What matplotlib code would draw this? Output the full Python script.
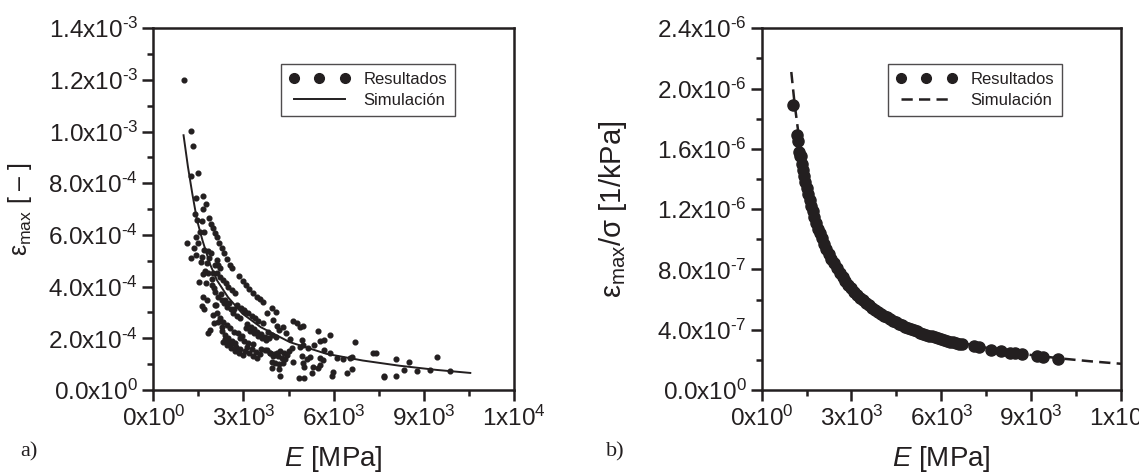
import matplotlib
matplotlib.use("Agg")
from matplotlib import pyplot as plt
from matplotlib.ticker import FixedLocator, MultipleLocator
from matplotlib.lines import Line2D

# ---- data ----
# a) measured strain vs modulus
res_E = [1006, 1242, 1331, 1497, 1253, 1420, 1664, 1741, 1641, 1386, 1464, 1608, 1863,
         1908, 1974, 2052, 2107, 1109, 1420, 1553, 1686, 1497, 1353, 1242, 1420, 1608,
         1686, 1830, 1908, 1863, 2196, 2274, 2352, 2440, 2551, 2607, 2107, 2163, 2218,
         2052, 1641, 1830, 1974, 2107, 2218, 2329, 2418, 2496, 2607, 2717, 2861, 2972,
         3083, 3194, 3305, 3438, 3549, 3638, 1530, 1752, 1641, 1797, 1608, 1686, 1941,
         2052, 2163, 2274, 2352, 2462, 2573, 2662, 2772, 2883, 3016, 3161, 3272, 3382,
         3493, 3660, 3793, 3937, 4081, 3970, 4103, 2052, 2130, 2218, 2329, 2440, 2551,
         2684, 2828, 2939, 3083, 3216, 3349, 3482, 3604, 3749, 2019, 1886, 1830, 2274,
         2385, 2496, 2607, 2717, 2329, 2440, 2573, 2717, 2861, 2994, 3127, 3272, 3416,
         3549, 2883, 3016, 3161, 3305, 3826, 3937, 4081, 4192, 4303, 4414, 4547, 4658,
         4769, 4880, 4990, 4935, 4968, 3771, 3882, 3993, 4103, 4214, 4347, 4436, 3937,
         4048, 4192, 4325, 3937, 4214, 4525, 4602, 4880, 4935, 4968, 5012, 4858, 5012,
         5157, 5212, 5301, 5268, 5357, 5468, 5534, 5545, 5534, 5468, 5645, 5690, 5667,
         5878, 5878, 5967, 5944, 6100, 6300, 6432, 6543, 6599, 6710, 6599, 7320, 7408,
         7674, 8074, 8074, 8340, 8517, 8761, 9211, 9454, 9878, 7660, 4180, 4650, 5100,
         # second rows inside the bands
         1580, 1720, 1800, 1950, 2010, 2090, 2250, 2390, 2520, 2690, 2800, 2930, 3050,
         3120, 3240, 3350, 3460, 3590, 3700, 3850, 2000, 2150, 2290, 2380, 2470, 2600,
         2750, 2900, 3040, 3190, 3330, 3450, 3580, 3700, 3880, 4000, 4150, 4270, 4380]
res_eps = [1.200e-3, 1.004e-3, 9.46e-4, 8.39e-4, 8.28e-4, 7.42e-4, 7.52e-4, 7.20e-4,
           7.00e-4, 6.81e-4, 6.58e-4, 6.55e-4, 6.64e-4, 6.42e-4, 6.26e-4, 6.06e-4,
           5.93e-4, 5.70e-4, 5.93e-4, 6.13e-4, 6.13e-4, 5.70e-4, 5.48e-4, 5.10e-4,
           5.22e-4, 5.16e-4, 5.42e-4, 5.39e-4, 5.29e-4, 5.10e-4, 5.70e-4, 5.48e-4,
           5.29e-4, 5.06e-4, 4.84e-4, 4.71e-4, 5.03e-4, 4.84e-4, 4.71e-4, 4.84e-4,
           4.49e-4, 4.52e-4, 4.54e-4, 4.52e-4, 4.39e-4, 4.26e-4, 4.13e-4, 4.00e-4,
           3.87e-4, 3.74e-4, 4.41e-4, 4.22e-4, 4.06e-4, 3.91e-4, 3.77e-4, 3.61e-4,
           3.51e-4, 3.42e-4, 4.17e-4, 4.13e-4, 3.61e-4, 3.48e-4, 3.25e-4, 3.12e-4,
           4.06e-4, 3.81e-4, 3.61e-4, 3.48e-4, 3.35e-4, 3.23e-4, 3.12e-4, 2.97e-4,
           2.86e-4, 2.77e-4, 3.10e-4, 2.97e-4, 2.86e-4, 2.77e-4, 2.68e-4, 2.61e-4,
           2.97e-4, 3.16e-4, 3.03e-4, 2.71e-4, 2.48e-4, 3.29e-4, 2.97e-4, 2.77e-4,
           2.64e-4, 2.52e-4, 2.39e-4, 2.26e-4, 2.19e-4, 2.09e-4, 2.39e-4, 2.30e-4,
           2.19e-4, 2.09e-4, 2.00e-4, 1.94e-4, 2.61e-4, 2.32e-4, 2.22e-4, 2.30e-4,
           2.13e-4, 2.00e-4, 1.91e-4, 1.81e-4, 1.87e-4, 1.74e-4, 1.61e-4, 1.52e-4,
           1.44e-4, 1.35e-4, 1.68e-4, 1.57e-4, 1.48e-4, 1.39e-4, 2.00e-4, 1.91e-4,
           1.83e-4, 1.78e-4, 2.26e-4, 2.13e-4, 2.04e-4, 2.32e-4, 2.43e-4, 2.19e-4,
           1.96e-4, 2.68e-4, 2.61e-4, 2.45e-4, 2.48e-4, 1.94e-4, 1.74e-4, 1.55e-4,
           1.42e-4, 1.32e-4, 1.42e-4, 1.52e-4, 1.44e-4, 1.35e-4, 1.10e-4, 1.03e-4,
           1.01e-4, 1.06e-4, 8.4e-5, 5.4e-5, 1.52e-4, 1.61e-4, 1.65e-4, 1.32e-4,
           1.03e-4, 9.0e-5, 4.5e-5, 4.5e-5, 1.61e-4, 1.29e-4, 9.0e-5, 6.5e-5,
           1.74e-4, 2.30e-4, 1.91e-4, 1.23e-4, 9.7e-5, 8.4e-5, 1.16e-4, 1.55e-4,
           1.94e-4, 2.13e-4, 1.42e-4, 7.1e-5, 5.4e-5, 1.23e-4, 1.19e-4, 6.5e-5,
           1.23e-4, 8.0e-5, 1.87e-4, 1.29e-4, 1.44e-4, 1.42e-4, 5.4e-5, 1.19e-4,
           5.4e-5, 7.7e-5, 1.10e-4, 7.5e-5, 7.8e-5, 1.29e-4, 7.2e-5, 5.2e-5,
           8.1e-5, 1.10e-4, 1.20e-4,
           4.95e-4, 4.60e-4, 4.90e-4, 4.30e-4, 3.95e-4, 3.30e-4, 3.70e-4, 3.50e-4,
           3.35e-4, 3.15e-4, 3.30e-4, 3.18e-4, 3.02e-4, 2.55e-4, 2.45e-4, 2.35e-4,
           2.25e-4, 2.15e-4, 2.05e-4, 2.00e-4, 2.90e-4, 2.65e-4, 2.45e-4, 1.98e-4,
           1.88e-4, 1.78e-4, 1.68e-4, 1.58e-4, 1.50e-4, 1.42e-4, 1.33e-4, 1.25e-4,
           1.60e-4, 1.53e-4, 1.45e-4, 1.38e-4, 1.30e-4, 1.23e-4, 1.18e-4]

# a) simulated curve
sim_E = [1006, 1152, 1297, 1455, 1636, 1879, 2121, 2485, 2970, 3576, 4545, 5758,
         6970, 8182, 9394, 10545]
sim_eps = [9.86e-4, 8.64e-4, 7.60e-4, 6.57e-4, 5.79e-4, 4.89e-4, 4.24e-4, 3.59e-4,
           2.95e-4, 2.43e-4, 1.85e-4, 1.40e-4, 1.14e-4, 9.4e-5, 7.8e-5, 6.6e-5]

# b) measured eps/sigma vs modulus (units of 1e-6 1/kPa)
res2_E = [1050, 1180, 1200, 1250, 1270,
          1300, 1340, 1380, 1420, 1460, 1500, 1550, 1600, 1650, 1700, 1760, 1820, 1880,
          1940, 2000, 2080, 2160, 2240, 2320, 2400, 2500, 2600, 2700, 2800, 2900, 3000,
          3100, 3200, 3300, 3400, 3500, 3600, 3700, 3800, 3900, 4000, 4100, 4200, 4300,
          4400, 4500, 4600, 4700, 4800, 4900, 5000, 5100, 5200, 5300, 5400, 5500, 5600,
          5700, 5800, 5900, 6000, 6100, 6200, 6300, 6400, 6500, 6600, 6700,
          7100, 7250, 7650, 8000, 8300, 8450, 8700, 9200, 9400, 9900]
res2_y = [1.89, 1.69, 1.65, 1.58, 1.55,
          1.55, 1.50, 1.46, 1.42, 1.38, 1.34, 1.30, 1.26, 1.22, 1.19, 1.15, 1.11, 1.07,
          1.04, 1.01, 0.971, 0.935, 0.901, 0.870, 0.841, 0.808, 0.777, 0.748, 0.721,
          0.697, 0.674, 0.652, 0.632, 0.612, 0.594, 0.577, 0.561, 0.546, 0.531, 0.518,
          0.505, 0.493, 0.481, 0.470, 0.460, 0.449, 0.439, 0.430, 0.421, 0.412, 0.404,
          0.396, 0.389, 0.381, 0.374, 0.368, 0.361, 0.355, 0.349, 0.343, 0.337, 0.332,
          0.326, 0.321, 0.316, 0.311, 0.306, 0.302,
          0.289, 0.283, 0.268, 0.256, 0.247, 0.243, 0.236, 0.223, 0.218, 0.207]

# b) simulated curve
sim2_E = [990, 1100, 1250, 1400, 1600, 1800, 2000, 2300, 2600, 3000, 3500, 4000, 4500,
          5000, 6000, 7000, 8000, 9000, 10000, 11000, 12000]
sim2_y = [2.11, 1.90, 1.67, 1.49, 1.31, 1.16, 1.045, 0.909, 0.804, 0.697, 0.597, 0.523,
          0.464, 0.418, 0.348, 0.299, 0.261, 0.232, 0.209, 0.190, 0.174]

x_ticks = [0, 3000, 6000, 9000, 12000]
x_labels = ["0x10$^{0}$", "3x10$^{3}$", "6x10$^{3}$", "9x10$^{3}$", "1x10$^{4}$"]
y1_ticks = [0, 2e-4, 4e-4, 6e-4, 8e-4, 1e-3, 1.2e-3, 1.4e-3]
y1_labels = ["0.0x10$^{0}$", "2.0x10$^{\\text{-}4}$", "4.0x10$^{\\text{-}4}$",
             "6.0x10$^{\\text{-}4}$", "8.0x10$^{\\text{-}4}$", "1.0x10$^{\\text{-}3}$",
             "1.2x10$^{\\text{-}3}$", "1.4x10$^{\\text{-}3}$"]
y2_ticks = [0, 0.4, 0.8, 1.2, 1.6, 2.0, 2.4]
y2_labels = ["0.0x10$^{0}$", "4.0x10$^{\\text{-}7}$", "8.0x10$^{\\text{-}7}$",
             "1.2x10$^{\\text{-}6}$", "1.6x10$^{\\text{-}6}$", "2.0x10$^{\\text{-}6}$",
             "2.4x10$^{\\text{-}6}$"]

INK = "#231f20"

plt.rcParams["font.family"] = ["Liberation Sans", "DejaVu Sans"]
plt.rcParams["mathtext.fontset"] = "custom"
plt.rcParams["mathtext.rm"] = "Liberation Sans"
plt.rcParams["mathtext.it"] = "Liberation Sans:italic"
plt.rcParams["mathtext.bf"] = "Liberation Sans:bold"
plt.rcParams["mathtext.default"] = "regular"


def style_axes(ax, yticks, ylabels, yminor):
    ax.set_xlim(0, 12000)
    ax.xaxis.set_major_locator(FixedLocator(x_ticks))
    ax.set_xticklabels(x_labels)
    ax.xaxis.set_minor_locator(MultipleLocator(1500))
    ax.yaxis.set_major_locator(FixedLocator(yticks))
    ax.set_yticklabels(ylabels)
    ax.yaxis.set_minor_locator(MultipleLocator(yminor))
    ax.tick_params(which="both", direction="out", top=False, right=False,
                   color=INK, width=1.8, labelsize=17.5, labelcolor=INK)
    ax.tick_params(which="major", length=8, pad=3)
    ax.tick_params(which="minor", length=4)
    for s in ax.spines.values():
        s.set_linewidth(1.8)
        s.set_color(INK)
    ax.set_xlabel("$\\mathit{E}$ [MPa]", fontsize=20, color=INK, labelpad=10)


def add_legend(ax, line_handle, x0):
    dots = Line2D([], [], ls="none", marker="o", ms=7, color=INK)
    leg = ax.legend([dots, line_handle], ["Resultados", "Simulación"], numpoints=3,
                    loc="upper left", bbox_to_anchor=(x0, 0.901), borderaxespad=0,
                    fontsize=12, handlelength=3.7, handletextpad=0.8, frameon=True,
                    fancybox=False, edgecolor=INK, borderpad=0.45, labelspacing=0.4)
    leg.get_frame().set_linewidth(1.0)
    for t in leg.get_texts():
        t.set_color(INK)


fig = plt.figure(figsize=(11.39, 4.76), dpi=100)
ax1 = fig.add_axes([0.1346, 0.1807, 0.3167, 0.7599])
ax2 = fig.add_axes([0.6687, 0.1807, 0.3155, 0.7599])

# ---- a) ----
ax1.plot(res_E, res_eps, "o", ls="none", ms=3.4, color=INK)
ax1.plot(sim_E, sim_eps, "-", lw=1.4, color=INK)
ax1.set_ylim(0, 1.4e-3)
style_axes(ax1, y1_ticks, y1_labels, 1e-4)
ax1.set_ylabel("$\\mathrm{\\varepsilon}_{max}$ [ \u2013 ]", fontsize=18, color=INK)
ax1.yaxis.set_label_coords(-0.33, 0.5)
add_legend(ax1, Line2D([], [], ls="-", lw=1.4, color=INK), 0.354)

# ---- b) ----
ax2.plot(res2_E, res2_y, "o", ls="none", ms=8, color=INK)
ax2.plot(sim2_E, sim2_y, "--", lw=1.8, dashes=(4.5, 2.5), color=INK)
ax2.set_ylim(0, 2.4)
style_axes(ax2, y2_ticks, y2_labels, 0.2)
ax2.set_ylabel("$\\mathrm{\\varepsilon}_{max}$/$\\mathrm{\\sigma}$ [1/kPa]",
               fontsize=21, color=INK)
ax2.yaxis.set_label_coords(-0.37, 0.5)
add_legend(ax2, Line2D([], [], ls="--", lw=1.8, dashes=(4.5, 2.5), color=INK), 0.352)

fig.text(20 / 1139, 1 - 452 / 476, "a)", family=["Liberation Serif", "DejaVu Serif"],
         fontsize=16, va="center", ha="left", color=INK)
fig.text(606 / 1139, 1 - 452 / 476, "b)", family=["Liberation Serif", "DejaVu Serif"],
         fontsize=16, va="center", ha="left", color=INK)

fig.savefig("out.png", dpi=100)
